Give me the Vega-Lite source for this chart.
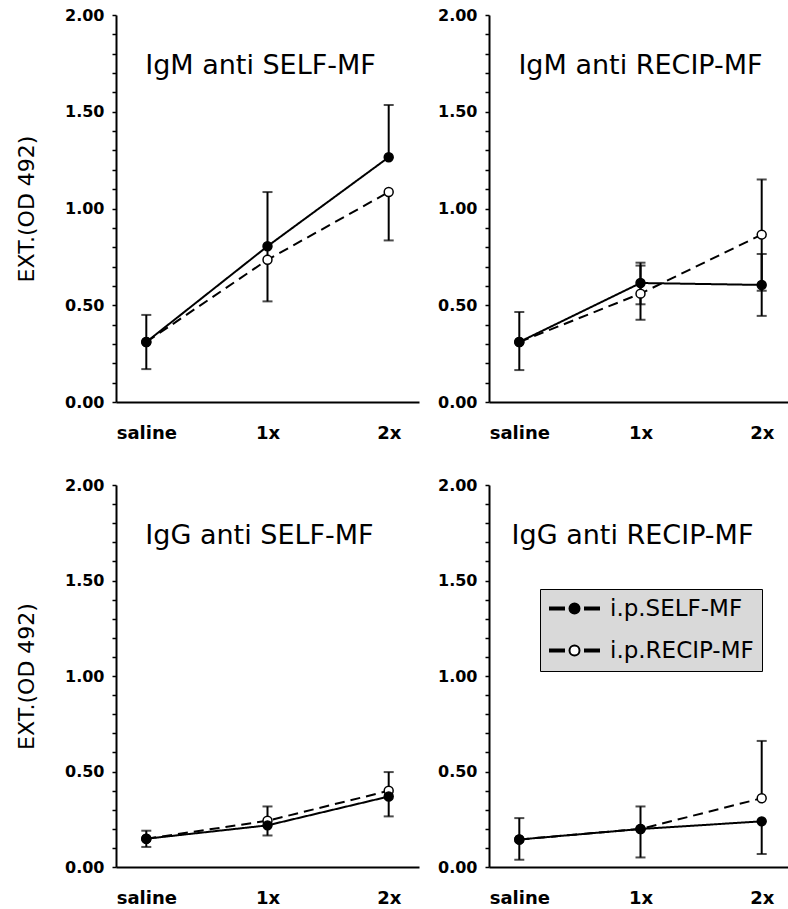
{
  "$schema": "https://vega.github.io/schema/vega-lite/v6.json",
  "background": "white",
  "padding": {"left": 15, "top": 7, "right": 0, "bottom": 0},
  "config": {
    "font": "DejaVu Sans",
    "view": {"stroke": null},
    "axis": {"grid": false, "domainColor": "black", "domainWidth": 2, "tickColor": "black", "labelColor": "black", "titleColor": "black", "labelFont": "DejaVu Sans", "labelFontWeight": "bold", "titleFont": "DejaVu Sans"},
    "axisX": {"ticks": false, "tickSize": 0, "labelFontSize": 18, "labelPadding": 22, "labelFlush": false},
    "axisY": {"tickSize": 4, "tickWidth": 1.5, "labelFontSize": 16, "labelPadding": 8, "titleFontSize": 22, "titleFontWeight": "normal", "titlePadding": 26, "labelOverlap": false},
    "title": {"font": "DejaVu Sans", "fontSize": 27, "fontWeight": "normal", "color": "black"}
  },
  "data": {"values": [
    {"panel": "A", "dose": 0, "series": "i.p.RECIP-MF", "mean": 0.31, "lo": null, "hi": null},
    {"panel": "A", "dose": 1, "series": "i.p.RECIP-MF", "mean": 0.735, "lo": null, "hi": null},
    {"panel": "A", "dose": 2, "series": "i.p.RECIP-MF", "mean": 1.085, "lo": 0.835, "hi": null},
    {"panel": "A", "dose": 0, "series": "i.p.SELF-MF", "mean": 0.31, "lo": 0.17, "hi": 0.45},
    {"panel": "A", "dose": 1, "series": "i.p.SELF-MF", "mean": 0.805, "lo": 0.52, "hi": 1.085},
    {"panel": "A", "dose": 2, "series": "i.p.SELF-MF", "mean": 1.265, "lo": null, "hi": 1.535},
    {"panel": "B", "dose": 0, "series": "i.p.RECIP-MF", "mean": 0.31, "lo": null, "hi": null},
    {"panel": "B", "dose": 1, "series": "i.p.RECIP-MF", "mean": 0.56, "lo": 0.425, "hi": 0.705},
    {"panel": "B", "dose": 2, "series": "i.p.RECIP-MF", "mean": 0.865, "lo": 0.575, "hi": 1.15},
    {"panel": "B", "dose": 0, "series": "i.p.SELF-MF", "mean": 0.31, "lo": 0.165, "hi": 0.465},
    {"panel": "B", "dose": 1, "series": "i.p.SELF-MF", "mean": 0.615, "lo": 0.505, "hi": 0.72},
    {"panel": "B", "dose": 2, "series": "i.p.SELF-MF", "mean": 0.605, "lo": 0.445, "hi": 0.765},
    {"panel": "C", "dose": 0, "series": "i.p.RECIP-MF", "mean": 0.148, "lo": null, "hi": null},
    {"panel": "C", "dose": 1, "series": "i.p.RECIP-MF", "mean": 0.242, "lo": null, "hi": 0.317},
    {"panel": "C", "dose": 2, "series": "i.p.RECIP-MF", "mean": 0.399, "lo": null, "hi": 0.497},
    {"panel": "C", "dose": 0, "series": "i.p.SELF-MF", "mean": 0.148, "lo": 0.105, "hi": 0.19},
    {"panel": "C", "dose": 1, "series": "i.p.SELF-MF", "mean": 0.218, "lo": 0.165, "hi": null},
    {"panel": "C", "dose": 2, "series": "i.p.SELF-MF", "mean": 0.369, "lo": 0.265, "hi": null},
    {"panel": "D", "dose": 0, "series": "i.p.RECIP-MF", "mean": 0.144, "lo": null, "hi": null},
    {"panel": "D", "dose": 1, "series": "i.p.RECIP-MF", "mean": 0.199, "lo": null, "hi": null},
    {"panel": "D", "dose": 2, "series": "i.p.RECIP-MF", "mean": 0.36, "lo": null, "hi": 0.66},
    {"panel": "D", "dose": 0, "series": "i.p.SELF-MF", "mean": 0.144, "lo": 0.038, "hi": 0.256},
    {"panel": "D", "dose": 1, "series": "i.p.SELF-MF", "mean": 0.199, "lo": 0.05, "hi": 0.317},
    {"panel": "D", "dose": 2, "series": "i.p.SELF-MF", "mean": 0.239, "lo": 0.068, "hi": null}
  ]},
  "spacing": 35,
  "vconcat": [
    {
      "spacing": 18,
      "hconcat": [
        {
          "width": 303, "height": 387,
          "title": {"text": "IgM anti SELF-MF", "anchor": "middle", "frame": "group", "offset": -94, "baseline": "alphabetic", "dx": -7},
          "transform": [{"filter": "datum.panel === 'A'"}],
          "encoding": {"x": {"field": "dose", "type": "quantitative", "scale": {"domain": [-0.25, 2.25], "nice": false, "zero": false}, "axis": {"values": [0, 1, 2], "labelExpr": "datum.value == 0 ? 'saline' : datum.value + 'x'", "title": null}}},
          "layer": [
            {"mark": {"type": "rule", "color": "black", "strokeWidth": 2}, "encoding": {"y": {"field": "hi", "type": "quantitative", "scale": {"domain": [0, 2], "nice": false}, "axis": {"values": [0, 0.1, 0.2, 0.3, 0.4, 0.5, 0.6, 0.7, 0.8, 0.9, 1, 1.1, 1.2, 1.3, 1.4, 1.5, 1.6, 1.7, 1.8, 1.9, 2], "labelExpr": "abs(datum.value*2 - round(datum.value*2)) < 0.001 ? format(datum.value, '.2f') : ''", "title": "EXT.(OD 492)"}}, "y2": {"field": "mean"}}},
            {"mark": {"type": "rule", "color": "black", "strokeWidth": 2}, "encoding": {"y": {"field": "lo", "type": "quantitative", "scale": {"domain": [0, 2], "nice": false}, "axis": {"values": [0, 0.1, 0.2, 0.3, 0.4, 0.5, 0.6, 0.7, 0.8, 0.9, 1, 1.1, 1.2, 1.3, 1.4, 1.5, 1.6, 1.7, 1.8, 1.9, 2], "labelExpr": "abs(datum.value*2 - round(datum.value*2)) < 0.001 ? format(datum.value, '.2f') : ''", "title": "EXT.(OD 492)"}}, "y2": {"field": "mean"}}},
            {"mark": {"type": "tick", "orient": "horizontal", "color": "black", "size": 10, "thickness": 2}, "encoding": {"y": {"field": "hi", "type": "quantitative", "scale": {"domain": [0, 2], "nice": false}, "axis": {"values": [0, 0.1, 0.2, 0.3, 0.4, 0.5, 0.6, 0.7, 0.8, 0.9, 1, 1.1, 1.2, 1.3, 1.4, 1.5, 1.6, 1.7, 1.8, 1.9, 2], "labelExpr": "abs(datum.value*2 - round(datum.value*2)) < 0.001 ? format(datum.value, '.2f') : ''", "title": "EXT.(OD 492)"}}}},
            {"mark": {"type": "tick", "orient": "horizontal", "color": "black", "size": 10, "thickness": 2}, "encoding": {"y": {"field": "lo", "type": "quantitative", "scale": {"domain": [0, 2], "nice": false}, "axis": {"values": [0, 0.1, 0.2, 0.3, 0.4, 0.5, 0.6, 0.7, 0.8, 0.9, 1, 1.1, 1.2, 1.3, 1.4, 1.5, 1.6, 1.7, 1.8, 1.9, 2], "labelExpr": "abs(datum.value*2 - round(datum.value*2)) < 0.001 ? format(datum.value, '.2f') : ''", "title": "EXT.(OD 492)"}}}},
            {"mark": {"type": "line", "color": "black", "strokeWidth": 2}, "encoding": {"y": {"field": "mean", "type": "quantitative", "scale": {"domain": [0, 2], "nice": false}, "axis": {"values": [0, 0.1, 0.2, 0.3, 0.4, 0.5, 0.6, 0.7, 0.8, 0.9, 1, 1.1, 1.2, 1.3, 1.4, 1.5, 1.6, 1.7, 1.8, 1.9, 2], "labelExpr": "abs(datum.value*2 - round(datum.value*2)) < 0.001 ? format(datum.value, '.2f') : ''", "title": "EXT.(OD 492)"}}, "detail": {"field": "series", "type": "nominal"}, "strokeDash": {"condition": {"test": "datum.series === 'i.p.RECIP-MF'", "value": [10, 6]}, "value": [1, 0]}}},
            {"mark": {"type": "point", "shape": "circle", "filled": true, "size": 80, "stroke": "black", "strokeWidth": 1.5, "opacity": 1}, "encoding": {"y": {"field": "mean", "type": "quantitative", "scale": {"domain": [0, 2], "nice": false}, "axis": {"values": [0, 0.1, 0.2, 0.3, 0.4, 0.5, 0.6, 0.7, 0.8, 0.9, 1, 1.1, 1.2, 1.3, 1.4, 1.5, 1.6, 1.7, 1.8, 1.9, 2], "labelExpr": "abs(datum.value*2 - round(datum.value*2)) < 0.001 ? format(datum.value, '.2f') : ''", "title": "EXT.(OD 492)"}}, "fill": {"condition": {"test": "datum.series === 'i.p.SELF-MF'", "value": "black"}, "value": "white"}}}
          ]
        },
        {
          "width": 303, "height": 387,
          "title": {"text": "IgM anti RECIP-MF", "anchor": "middle", "frame": "group", "offset": -94, "baseline": "alphabetic", "dx": 0},
          "transform": [{"filter": "datum.panel === 'B'"}],
          "encoding": {"x": {"field": "dose", "type": "quantitative", "scale": {"domain": [-0.25, 2.25], "nice": false, "zero": false}, "axis": {"values": [0, 1, 2], "labelExpr": "datum.value == 0 ? 'saline' : datum.value + 'x'", "title": null}}},
          "layer": [
            {"mark": {"type": "rule", "color": "black", "strokeWidth": 2}, "encoding": {"y": {"field": "hi", "type": "quantitative", "scale": {"domain": [0, 2], "nice": false}, "axis": {"values": [0, 0.1, 0.2, 0.3, 0.4, 0.5, 0.6, 0.7, 0.8, 0.9, 1, 1.1, 1.2, 1.3, 1.4, 1.5, 1.6, 1.7, 1.8, 1.9, 2], "labelExpr": "abs(datum.value*2 - round(datum.value*2)) < 0.001 ? format(datum.value, '.2f') : ''", "title": null}}, "y2": {"field": "mean"}}},
            {"mark": {"type": "rule", "color": "black", "strokeWidth": 2}, "encoding": {"y": {"field": "lo", "type": "quantitative", "scale": {"domain": [0, 2], "nice": false}, "axis": {"values": [0, 0.1, 0.2, 0.3, 0.4, 0.5, 0.6, 0.7, 0.8, 0.9, 1, 1.1, 1.2, 1.3, 1.4, 1.5, 1.6, 1.7, 1.8, 1.9, 2], "labelExpr": "abs(datum.value*2 - round(datum.value*2)) < 0.001 ? format(datum.value, '.2f') : ''", "title": null}}, "y2": {"field": "mean"}}},
            {"mark": {"type": "tick", "orient": "horizontal", "color": "black", "size": 10, "thickness": 2}, "encoding": {"y": {"field": "hi", "type": "quantitative", "scale": {"domain": [0, 2], "nice": false}, "axis": {"values": [0, 0.1, 0.2, 0.3, 0.4, 0.5, 0.6, 0.7, 0.8, 0.9, 1, 1.1, 1.2, 1.3, 1.4, 1.5, 1.6, 1.7, 1.8, 1.9, 2], "labelExpr": "abs(datum.value*2 - round(datum.value*2)) < 0.001 ? format(datum.value, '.2f') : ''", "title": null}}}},
            {"mark": {"type": "tick", "orient": "horizontal", "color": "black", "size": 10, "thickness": 2}, "encoding": {"y": {"field": "lo", "type": "quantitative", "scale": {"domain": [0, 2], "nice": false}, "axis": {"values": [0, 0.1, 0.2, 0.3, 0.4, 0.5, 0.6, 0.7, 0.8, 0.9, 1, 1.1, 1.2, 1.3, 1.4, 1.5, 1.6, 1.7, 1.8, 1.9, 2], "labelExpr": "abs(datum.value*2 - round(datum.value*2)) < 0.001 ? format(datum.value, '.2f') : ''", "title": null}}}},
            {"mark": {"type": "line", "color": "black", "strokeWidth": 2}, "encoding": {"y": {"field": "mean", "type": "quantitative", "scale": {"domain": [0, 2], "nice": false}, "axis": {"values": [0, 0.1, 0.2, 0.3, 0.4, 0.5, 0.6, 0.7, 0.8, 0.9, 1, 1.1, 1.2, 1.3, 1.4, 1.5, 1.6, 1.7, 1.8, 1.9, 2], "labelExpr": "abs(datum.value*2 - round(datum.value*2)) < 0.001 ? format(datum.value, '.2f') : ''", "title": null}}, "detail": {"field": "series", "type": "nominal"}, "strokeDash": {"condition": {"test": "datum.series === 'i.p.RECIP-MF'", "value": [10, 6]}, "value": [1, 0]}}},
            {"mark": {"type": "point", "shape": "circle", "filled": true, "size": 80, "stroke": "black", "strokeWidth": 1.5, "opacity": 1}, "encoding": {"y": {"field": "mean", "type": "quantitative", "scale": {"domain": [0, 2], "nice": false}, "axis": {"values": [0, 0.1, 0.2, 0.3, 0.4, 0.5, 0.6, 0.7, 0.8, 0.9, 1, 1.1, 1.2, 1.3, 1.4, 1.5, 1.6, 1.7, 1.8, 1.9, 2], "labelExpr": "abs(datum.value*2 - round(datum.value*2)) < 0.001 ? format(datum.value, '.2f') : ''", "title": null}}, "fill": {"condition": {"test": "datum.series === 'i.p.SELF-MF'", "value": "black"}, "value": "white"}}}
          ]
        }
      ]
    },
    {
      "spacing": 18,
      "hconcat": [
        {
          "width": 303, "height": 382,
          "title": {"text": "IgG anti SELF-MF", "anchor": "middle", "frame": "group", "offset": -94, "baseline": "alphabetic", "dx": -8},
          "transform": [{"filter": "datum.panel === 'C'"}],
          "encoding": {"x": {"field": "dose", "type": "quantitative", "scale": {"domain": [-0.25, 2.25], "nice": false, "zero": false}, "axis": {"values": [0, 1, 2], "labelExpr": "datum.value == 0 ? 'saline' : datum.value + 'x'", "title": null}}},
          "layer": [
            {"mark": {"type": "rule", "color": "black", "strokeWidth": 2}, "encoding": {"y": {"field": "hi", "type": "quantitative", "scale": {"domain": [0, 2], "nice": false}, "axis": {"values": [0, 0.1, 0.2, 0.3, 0.4, 0.5, 0.6, 0.7, 0.8, 0.9, 1, 1.1, 1.2, 1.3, 1.4, 1.5, 1.6, 1.7, 1.8, 1.9, 2], "labelExpr": "abs(datum.value*2 - round(datum.value*2)) < 0.001 ? format(datum.value, '.2f') : ''", "title": "EXT.(OD 492)"}}, "y2": {"field": "mean"}}},
            {"mark": {"type": "rule", "color": "black", "strokeWidth": 2}, "encoding": {"y": {"field": "lo", "type": "quantitative", "scale": {"domain": [0, 2], "nice": false}, "axis": {"values": [0, 0.1, 0.2, 0.3, 0.4, 0.5, 0.6, 0.7, 0.8, 0.9, 1, 1.1, 1.2, 1.3, 1.4, 1.5, 1.6, 1.7, 1.8, 1.9, 2], "labelExpr": "abs(datum.value*2 - round(datum.value*2)) < 0.001 ? format(datum.value, '.2f') : ''", "title": "EXT.(OD 492)"}}, "y2": {"field": "mean"}}},
            {"mark": {"type": "tick", "orient": "horizontal", "color": "black", "size": 10, "thickness": 2}, "encoding": {"y": {"field": "hi", "type": "quantitative", "scale": {"domain": [0, 2], "nice": false}, "axis": {"values": [0, 0.1, 0.2, 0.3, 0.4, 0.5, 0.6, 0.7, 0.8, 0.9, 1, 1.1, 1.2, 1.3, 1.4, 1.5, 1.6, 1.7, 1.8, 1.9, 2], "labelExpr": "abs(datum.value*2 - round(datum.value*2)) < 0.001 ? format(datum.value, '.2f') : ''", "title": "EXT.(OD 492)"}}}},
            {"mark": {"type": "tick", "orient": "horizontal", "color": "black", "size": 10, "thickness": 2}, "encoding": {"y": {"field": "lo", "type": "quantitative", "scale": {"domain": [0, 2], "nice": false}, "axis": {"values": [0, 0.1, 0.2, 0.3, 0.4, 0.5, 0.6, 0.7, 0.8, 0.9, 1, 1.1, 1.2, 1.3, 1.4, 1.5, 1.6, 1.7, 1.8, 1.9, 2], "labelExpr": "abs(datum.value*2 - round(datum.value*2)) < 0.001 ? format(datum.value, '.2f') : ''", "title": "EXT.(OD 492)"}}}},
            {"mark": {"type": "line", "color": "black", "strokeWidth": 2}, "encoding": {"y": {"field": "mean", "type": "quantitative", "scale": {"domain": [0, 2], "nice": false}, "axis": {"values": [0, 0.1, 0.2, 0.3, 0.4, 0.5, 0.6, 0.7, 0.8, 0.9, 1, 1.1, 1.2, 1.3, 1.4, 1.5, 1.6, 1.7, 1.8, 1.9, 2], "labelExpr": "abs(datum.value*2 - round(datum.value*2)) < 0.001 ? format(datum.value, '.2f') : ''", "title": "EXT.(OD 492)"}}, "detail": {"field": "series", "type": "nominal"}, "strokeDash": {"condition": {"test": "datum.series === 'i.p.RECIP-MF'", "value": [10, 6]}, "value": [1, 0]}}},
            {"mark": {"type": "point", "shape": "circle", "filled": true, "size": 80, "stroke": "black", "strokeWidth": 1.5, "opacity": 1}, "encoding": {"y": {"field": "mean", "type": "quantitative", "scale": {"domain": [0, 2], "nice": false}, "axis": {"values": [0, 0.1, 0.2, 0.3, 0.4, 0.5, 0.6, 0.7, 0.8, 0.9, 1, 1.1, 1.2, 1.3, 1.4, 1.5, 1.6, 1.7, 1.8, 1.9, 2], "labelExpr": "abs(datum.value*2 - round(datum.value*2)) < 0.001 ? format(datum.value, '.2f') : ''", "title": "EXT.(OD 492)"}}, "fill": {"condition": {"test": "datum.series === 'i.p.SELF-MF'", "value": "black"}, "value": "white"}}}
          ]
        },
        {
          "width": 303, "height": 382,
          "title": {"text": "IgG anti RECIP-MF", "anchor": "middle", "frame": "group", "offset": -94, "baseline": "alphabetic", "dx": -8},
          "transform": [{"filter": "datum.panel === 'D'"}],
          "encoding": {"x": {"field": "dose", "type": "quantitative", "scale": {"domain": [-0.25, 2.25], "nice": false, "zero": false}, "axis": {"values": [0, 1, 2], "labelExpr": "datum.value == 0 ? 'saline' : datum.value + 'x'", "title": null}}},
          "layer": [
            {"mark": {"type": "rule", "color": "black", "strokeWidth": 2}, "encoding": {"y": {"field": "hi", "type": "quantitative", "scale": {"domain": [0, 2], "nice": false}, "axis": {"values": [0, 0.1, 0.2, 0.3, 0.4, 0.5, 0.6, 0.7, 0.8, 0.9, 1, 1.1, 1.2, 1.3, 1.4, 1.5, 1.6, 1.7, 1.8, 1.9, 2], "labelExpr": "abs(datum.value*2 - round(datum.value*2)) < 0.001 ? format(datum.value, '.2f') : ''", "title": null}}, "y2": {"field": "mean"}}},
            {"mark": {"type": "rule", "color": "black", "strokeWidth": 2}, "encoding": {"y": {"field": "lo", "type": "quantitative", "scale": {"domain": [0, 2], "nice": false}, "axis": {"values": [0, 0.1, 0.2, 0.3, 0.4, 0.5, 0.6, 0.7, 0.8, 0.9, 1, 1.1, 1.2, 1.3, 1.4, 1.5, 1.6, 1.7, 1.8, 1.9, 2], "labelExpr": "abs(datum.value*2 - round(datum.value*2)) < 0.001 ? format(datum.value, '.2f') : ''", "title": null}}, "y2": {"field": "mean"}}},
            {"mark": {"type": "tick", "orient": "horizontal", "color": "black", "size": 10, "thickness": 2}, "encoding": {"y": {"field": "hi", "type": "quantitative", "scale": {"domain": [0, 2], "nice": false}, "axis": {"values": [0, 0.1, 0.2, 0.3, 0.4, 0.5, 0.6, 0.7, 0.8, 0.9, 1, 1.1, 1.2, 1.3, 1.4, 1.5, 1.6, 1.7, 1.8, 1.9, 2], "labelExpr": "abs(datum.value*2 - round(datum.value*2)) < 0.001 ? format(datum.value, '.2f') : ''", "title": null}}}},
            {"mark": {"type": "tick", "orient": "horizontal", "color": "black", "size": 10, "thickness": 2}, "encoding": {"y": {"field": "lo", "type": "quantitative", "scale": {"domain": [0, 2], "nice": false}, "axis": {"values": [0, 0.1, 0.2, 0.3, 0.4, 0.5, 0.6, 0.7, 0.8, 0.9, 1, 1.1, 1.2, 1.3, 1.4, 1.5, 1.6, 1.7, 1.8, 1.9, 2], "labelExpr": "abs(datum.value*2 - round(datum.value*2)) < 0.001 ? format(datum.value, '.2f') : ''", "title": null}}}},
            {"mark": {"type": "line", "color": "black", "strokeWidth": 2}, "encoding": {"y": {"field": "mean", "type": "quantitative", "scale": {"domain": [0, 2], "nice": false}, "axis": {"values": [0, 0.1, 0.2, 0.3, 0.4, 0.5, 0.6, 0.7, 0.8, 0.9, 1, 1.1, 1.2, 1.3, 1.4, 1.5, 1.6, 1.7, 1.8, 1.9, 2], "labelExpr": "abs(datum.value*2 - round(datum.value*2)) < 0.001 ? format(datum.value, '.2f') : ''", "title": null}}, "detail": {"field": "series", "type": "nominal"}, "strokeDash": {"condition": {"test": "datum.series === 'i.p.RECIP-MF'", "value": [10, 6]}, "value": [1, 0]}}},
            {"mark": {"type": "point", "shape": "circle", "filled": true, "size": 80, "stroke": "black", "strokeWidth": 1.5, "opacity": 1}, "encoding": {"y": {"field": "mean", "type": "quantitative", "scale": {"domain": [0, 2], "nice": false}, "axis": {"values": [0, 0.1, 0.2, 0.3, 0.4, 0.5, 0.6, 0.7, 0.8, 0.9, 1, 1.1, 1.2, 1.3, 1.4, 1.5, 1.6, 1.7, 1.8, 1.9, 2], "labelExpr": "abs(datum.value*2 - round(datum.value*2)) < 0.001 ? format(datum.value, '.2f') : ''", "title": null}}, "fill": {"field": "series", "type": "nominal", "scale": {"domain": ["i.p.SELF-MF", "i.p.RECIP-MF"], "range": ["black", "white"]}, "legend": {"title": null, "orient": "none", "legendX": 424, "legendY": 574, "padding": 8, "symbolType": "M-2.45,-0.1H-1.05V0.1H-2.45Z M1.05,-0.1H2.45V0.1H1.05Z M-0.5,0A0.5,0.5 0 1,0 0.5,0A0.5,0.5 0 1,0 -0.5,0Z", "symbolSize": 400, "symbolStrokeColor": "black", "symbolStrokeWidth": 2, "symbolOffset": 15, "labelFontSize": 23, "labelFont": "DejaVu Sans", "labelFontWeight": "normal", "labelColor": "black", "labelOffset": 24, "labelLimit": 300, "rowPadding": 18, "fillColor": "#d9d9d9", "strokeColor": "black", "encode": {"symbols": {"update": {"stroke": {"value": "black"}, "strokeWidth": {"value": 2}}}, "legend": {"update": {"strokeWidth": {"value": 2}}}}}}}}
          ]
        }
      ]
    }
  ]
}
